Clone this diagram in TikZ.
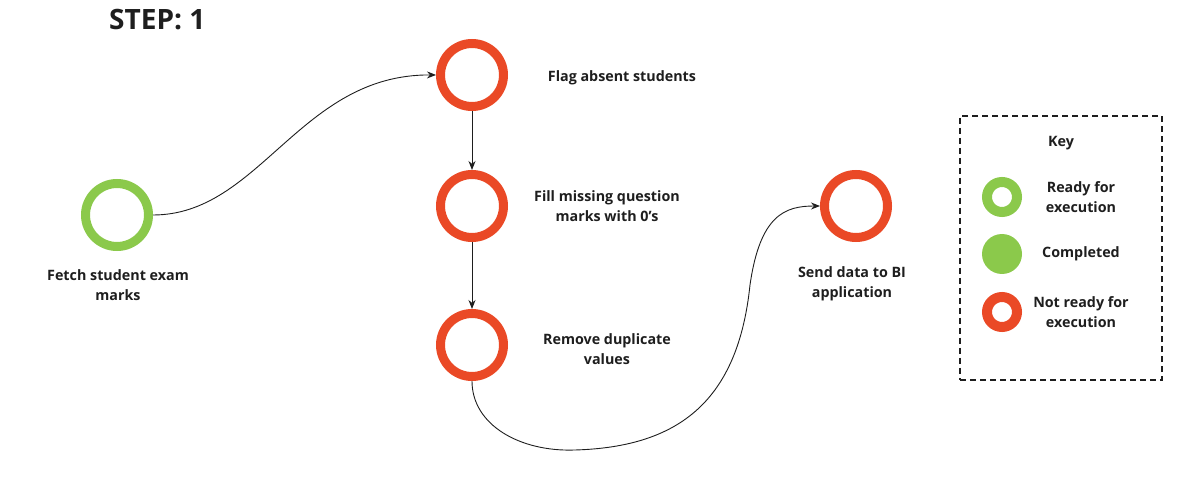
\documentclass[tikz,border=0pt]{standalone}
\usepackage{fontspec}
\setmainfont{Open Sans}
\usetikzlibrary{arrows.meta}
\definecolor{okgreen}{RGB}{139,201,75}
\definecolor{waitred}{RGB}{234,73,38}
\definecolor{ink}{RGB}{30,30,30}
\begin{document}
\begin{tikzpicture}[x=1pt,y=-1pt,
  ring/.style={circle,draw=#1,line width=9pt,minimum size=63pt,inner sep=0pt,fill=white},
  keyring/.style={circle,draw=#1,line width=10pt,minimum size=30pt,inner sep=0pt,fill=white},
  keydot/.style={circle,fill=#1,minimum size=40pt,inner sep=0pt},
  lbl/.style={font=\bfseries\fontsize{14.3}{20.5}\selectfont,text=ink,align=center,inner sep=0pt},
  flow/.style={draw=ink,line width=0.9pt,-{Stealth[length=9pt,width=7pt]}},
  plain/.style={draw=ink,line width=0.9pt}]
\useasboundingbox (0,0) rectangle (1200,497);

% title
\node[font=\bfseries\fontsize{28}{32}\selectfont,text=ink,anchor=west,inner sep=0pt] (title) at (109,20) {STEP: 1};

% tasks
\node[ring=okgreen] (fetch) at (117,215) {};
\node[ring=waitred] (flag) at (472,75) {};
\node[ring=waitred] (fill) at (472,206) {};
\node[ring=waitred] (dup) at (472,345) {};
\node[ring=waitred] (send) at (856,206) {};

% task labels
\node[lbl] (fetchl) at (118,285) {Fetch student exam\\marks};
\node[lbl] (flagl) at (622,78) {Flag absent students};
\node[lbl] (filll) at (607,206) {Fill missing question\\marks with 0\char39 s};
\node[lbl] (dupl) at (607,349) {Remove duplicate\\values};
\node[lbl] (sendl) at (852,284) {Send data to BI\\application};

% connectors
\draw[flow] (fetch.east) .. controls (260,215) and (300,74) .. (flag.west);
\draw[flow] (flag.south) -- (fill.north);
\draw[flow] (fill.south) -- (dup.north);
\coordinate (low) at (575,450);
\coordinate (rise) at (750,285);
\draw[flow] (dup.south) .. controls (472,425) and (520,452) .. (low)
  .. controls (680,447) and (738,400) .. (rise)
  .. controls (760,215) and (785,206) .. (send.west);

% key
\node[draw=ink,line width=1.2pt,dash pattern=on 6pt off 4pt,minimum width=202pt,minimum height=264pt,inner sep=0pt] (keybox) at (1061,248) {};
\node[lbl] (keyt) at (1061,143) {Key};
\node[keyring=okgreen] (kready) at (1002,197) {};
\node[keydot=okgreen] (kdone) at (1002,254) {};
\node[keyring=waitred] (kwait) at (1002,312) {};
\node[lbl] (kreadyl) at (1081,197) {Ready for\\execution};
\node[lbl] (kdonel) at (1081,254) {Completed};
\node[lbl] (kwaitl) at (1081,312) {Not ready for\\execution};
\end{tikzpicture}
\end{document}
